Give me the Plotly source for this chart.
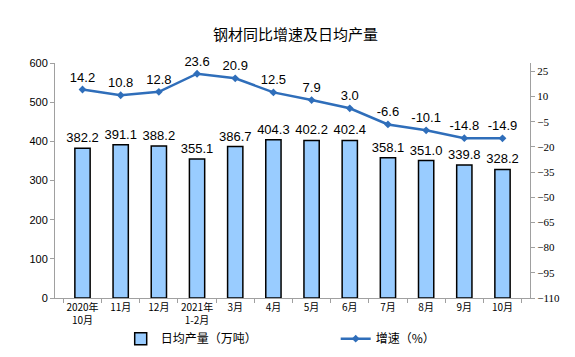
import plotly.graph_objects as go

categories = ["2020年<br>10月", "11月", "12月", "2021年<br>1-2月", "3月", "4月", "5月", "6月", "7月", "8月", "9月", "10月"]
output = [382.2, 391.1, 388.2, 355.1, 386.7, 404.3, 402.2, 402.4, 358.1, 351.0, 339.8, 328.2]
growth = [14.2, 10.8, 12.8, 23.6, 20.9, 12.5, 7.9, 3.0, -6.6, -10.1, -14.8, -14.9]
left_ticks = [0, 100, 200, 300, 400, 500, 600]
right_ticks = [-110, -95, -80, -65, -50, -35, -20, -5, 10, 25]

cjk = "Noto Sans CJK SC, Arial"
fig = go.Figure()
fig.add_trace(go.Bar(
    x=categories, y=output, name="日均产量（万吨）",
    marker=dict(color="#99CCFF", line=dict(color="#000000", width=1.5)),
    width=0.4,
    text=[f"{v:.1f}" for v in output], textposition="outside",
    constraintext="none",
    textfont=dict(family="Liberation Sans, Arial", size=13, color="#000"),
    cliponaxis=False,
))
fig.add_trace(go.Scatter(
    x=categories, y=growth, name="增速（%）", yaxis="y2",
    mode="lines+markers+text",
    line=dict(color="#2F6EBA", width=2.5),
    marker=dict(symbol="diamond", size=6, color="#2F6EBA"),
    text=[f"{v:.1f}" for v in growth], textposition="top center",
    textfont=dict(family="Liberation Sans, Arial", size=13, color="#000"),
    cliponaxis=False,
))
fig.update_layout(
    width=575, height=357,
    margin=dict(l=47, r=53, t=55, b=67, autoexpand=False),
    paper_bgcolor="white", plot_bgcolor="white",
    title=dict(text="钢材同比增速及日均产量", x=0.5, xanchor="center", y=0.925, yanchor="middle",
               font=dict(family=cjk, size=15, color="#000")),
    showlegend=True,
    legend=dict(orientation="h", xref="container", yref="container",
                x=0.196, xanchor="left", y=0.033, yanchor="bottom",
                font=dict(family=cjk, size=12, color="#000"), entrywidth=170, itemwidth=30,
                traceorder="normal", bgcolor="rgba(0,0,0,0)"),
    bargap=0.6,
    xaxis=dict(
        showline=True, linecolor="#A0A0A0", linewidth=1,
        ticks="outside", ticklen=4, tickcolor="#A0A0A0",
        tickson="boundaries", tickangle=0,
        tickfont=dict(family=cjk, size=10, color="#000"),
        showgrid=False,
    ),
    yaxis=dict(
        range=[0, 600], tickvals=left_ticks,
        showline=True, linecolor="#A0A0A0", linewidth=1,
        ticks="outside", ticklen=4, tickcolor="#A0A0A0",
        tickfont=dict(family="Liberation Sans, Arial", size=11, color="#000"),
        showgrid=False, zeroline=False,
    ),
    yaxis2=dict(
        range=[-110, 30], tickvals=right_ticks, overlaying="y", side="right",
        showline=True, linecolor="#A0A0A0", linewidth=1,
        ticks="outside", ticklen=4, tickcolor="#A0A0A0",
        tickfont=dict(family="Liberation Serif, Times New Roman", size=11, color="#000"),
        showgrid=False, zeroline=False,
    ),
)
fig.write_html("out.html")
